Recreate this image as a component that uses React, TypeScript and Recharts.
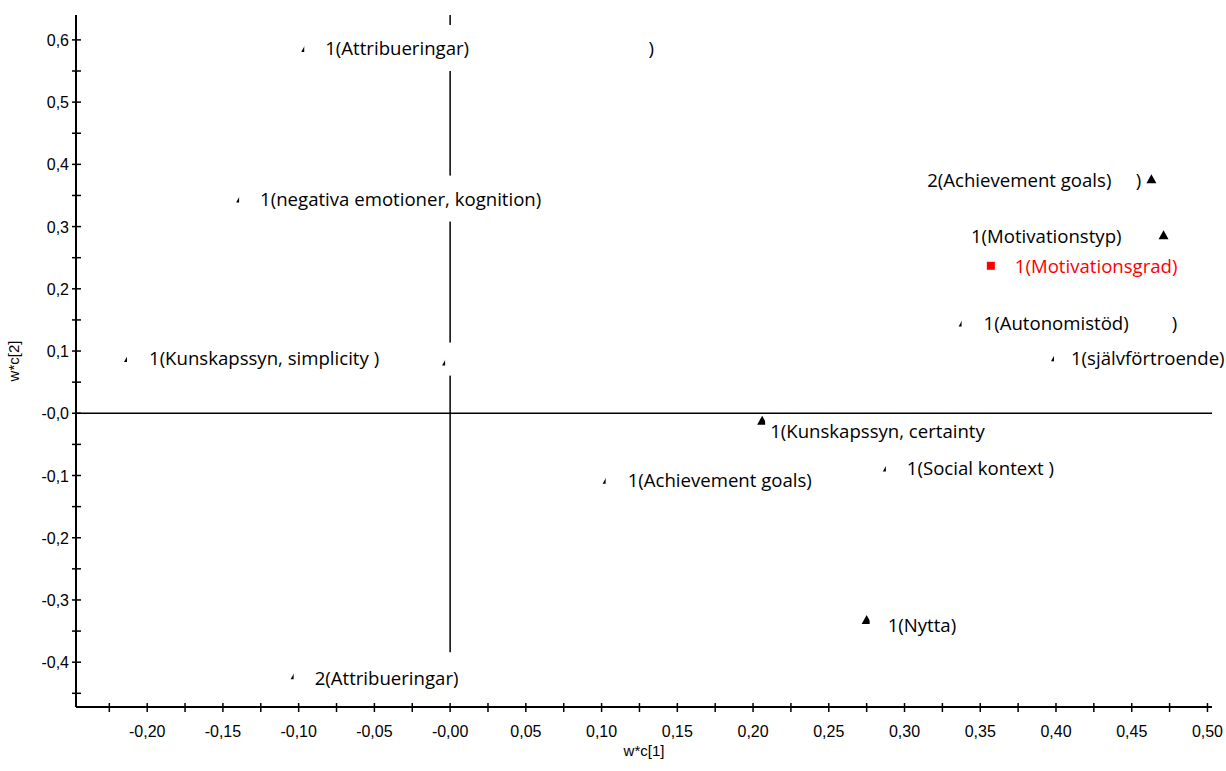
import {
  ScatterChart,
  Scatter,
  XAxis,
  YAxis,
  ReferenceLine,
  Label,
} from "recharts";

// loadings w*c[1] / w*c[2]
const names = [
  "1(Attribueringar)",
  "1(negativa emotioner, kognition)",
  "1(Kunskapssyn, simplicity )",
  "",
  "1(Kunskapssyn, certainty",
  "1(Social kontext )",
  "1(Achievement goals)",
  "1(Nytta)",
  "2(Attribueringar)",
  "2(Achievement goals)",
  "1(Motivationstyp)",
  "1(Autonomistöd)",
  "1(självförtroende)",
];
const wc1 = [
  -0.095, -0.138, -0.212, -0.002, 0.206, 0.289, 0.104, 0.275, -0.102, 0.463,
  0.471, 0.339, 0.4,
];
const wc2 = [
  0.587, 0.345, 0.089, 0.083, -0.012, -0.087, -0.107, -0.332, -0.421, 0.376,
  0.286, 0.146, 0.09,
];

// the response (y) variable, drawn in red
const respNames = ["1(Motivationsgrad)"];
const respWc1 = [0.357];
const respWc2 = [0.237];

const xTicks = [
  -0.225, -0.2, -0.175, -0.15, -0.125, -0.1, -0.075, -0.05, -0.025, 0, 0.025,
  0.05, 0.075, 0.1, 0.125, 0.15, 0.175, 0.2, 0.225, 0.25, 0.275, 0.3, 0.325,
  0.35, 0.375, 0.4, 0.425, 0.45, 0.475, 0.5,
];
const xTickLabels = [
  "", "-0,20", "", "-0,15", "", "-0,10", "", "-0,05", "", "-0,00", "", "0,05",
  "", "0,10", "", "0,15", "", "0,20", "", "0,25", "", "0,30", "", "0,35", "",
  "0,40", "", "0,45", "", "0,50",
];
const yTicks = [
  -0.45, -0.4, -0.35, -0.3, -0.25, -0.2, -0.15, -0.1, -0.05, 0, 0.05, 0.1,
  0.15, 0.2, 0.25, 0.3, 0.35, 0.4, 0.45, 0.5, 0.55, 0.6,
];
const yTickLabels = [
  "", "-0,4", "", "-0,3", "", "-0,2", "", "-0,1", "", "-0,0", "", "0,1", "",
  "0,2", "", "0,3", "", "0,4", "", "0,5", "", "0,6",
];

const points = names.map((name, i) => ({ name, x: wc1[i], y: wc2[i] }));
const respPoints = respNames.map((name, i) => ({
  name,
  x: respWc1[i],
  y: respWc2[i],
  resp: true,
}));
const allPoints = [...points, ...respPoints];

// label placement around each marker (px, relative to marker centre)
type Placement = {
  dx: number;
  dy?: number;
  anchor?: "start" | "end";
  boxL: number;
  boxR: number;
  boxT?: number;
  boxB?: number;
  tail?: number;
};
const placement: Record<string, Placement> = {
  "1(Attribueringar)": { dx: 19, boxL: -2, boxR: 342, tail: 345 },
  "1(negativa emotioner, kognition)": { dx: 19, boxL: -2, boxR: 314 },
  "1(Kunskapssyn, simplicity )": { dx: 20, boxL: -2, boxR: 256 },
  "": { dx: 0, boxL: -2, boxR: 40, boxT: -19, boxB: 14 },
  "1(Kunskapssyn, certainty": { dx: 8, dy: 10, boxL: 3, boxR: 200, boxT: -4, boxB: 32 },
  "1(Social kontext )": { dx: 19, boxL: -2, boxR: 180 },
  "1(Achievement goals)": { dx: 20, boxL: -2, boxR: 210 },
  "1(Nytta)": { dx: 21, dy: 5, boxL: 3, boxR: 100, boxT: -3, boxB: 28 },
  "2(Attribueringar)": { dx: 19, dy: 2, boxL: -2, boxR: 170 },
  "2(Achievement goals)": { dx: -40, anchor: "end", boxL: -235, boxR: -7, tail: -13 },
  "1(Motivationstyp)": { dx: -42, anchor: "end", boxL: -200, boxR: -8, boxT: -14, boxB: 14 },
  "1(Motivationsgrad)": { dx: 24, boxL: 6, boxR: 200, boxT: -14, boxB: 16 },
  "1(Autonomistöd)": { dx: 20, boxL: -2, boxR: 206, tail: 211, boxT: -16, boxB: 12 },
  "1(självförtroende)": { dx: 15, boxL: -2, boxR: 175 },
};

const AXIS_FONT = "'Liberation Sans', Arial, sans-serif";
const LABEL_FONT = "'Open Sans', sans-serif";
const LABEL_SIZE = 18.6;

const Triangle = ({ cx, cy }: any) => (
  <path
    d={`M${cx},${cy - 5} L${cx + 5},${cy + 4} L${cx - 5},${cy + 4} Z`}
    fill="#000"
  />
);

const Square = ({ cx, cy }: any) => (
  <rect x={cx - 4} y={cy - 4} width={8} height={8} fill="#ff0000" />
);

const PointLabel = ({ cx, cy, payload }: any) => {
  const p = placement[payload.name];
  if (!p) return null;
  const ty = cy + (p.dy ?? 0);
  const top = cy + (p.boxT ?? (p.dy ?? 0) - 23);
  const bottom = cy + (p.boxB ?? (p.dy ?? 0) + 23);
  const color = payload.resp ? "#ff0000" : "#000";
  return (
    <g>
      <rect
        x={cx + p.boxL}
        y={top}
        width={p.boxR - p.boxL}
        height={bottom - top}
        fill="#fff"
      />
      {payload.name && (
        <text
          x={cx + p.dx}
          y={ty}
          dominantBaseline="central"
          textAnchor={p.anchor ?? "start"}
          fontFamily={LABEL_FONT}
          fontSize={LABEL_SIZE}
          fill={color}
        >
          {payload.name}
        </text>
      )}
      {p.tail !== undefined && (
        <text
          x={cx + p.tail}
          y={ty}
          dominantBaseline="central"
          textAnchor="middle"
          fontFamily={LABEL_FONT}
          fontSize={LABEL_SIZE}
          fill="#000"
        >
          )
        </text>
      )}
    </g>
  );
};

const XTick = ({ x, y, payload }: any) => {
  const label = xTickLabels[xTicks.indexOf(payload.value)] ?? "";
  return (
    <g>
      <line x1={x} x2={x} y1={y - 4} y2={y + 5} stroke="#000" strokeWidth={1.5} />
      {label && (
        <text x={x} y={y + 30} textAnchor="middle" fontFamily={AXIS_FONT} fontSize={16} fill="#000">
          {label}
        </text>
      )}
    </g>
  );
};

const YTick = ({ x, y, payload }: any) => {
  const label = yTickLabels[yTicks.indexOf(payload.value)] ?? "";
  return (
    <g>
      <line x1={x - 4} x2={x + 5} y1={y} y2={y} stroke="#000" strokeWidth={1.5} />
      {label && (
        <text x={x - 7} y={y + 6} textAnchor="end" fontFamily={AXIS_FONT} fontSize={16} fill="#000">
          {label}
        </text>
      )}
    </g>
  );
};

export default function App() {
  return (
    <div style={{ position: "absolute", left: 0, top: 0 }}>
      <ScatterChart
        width={1226}
        height={771}
        margin={{ top: 15, right: 14, bottom: 0, left: 0 }}
      >
        <XAxis
          type="number"
          dataKey="x"
          domain={[-0.247, 0.503]}
          ticks={xTicks}
          tick={<XTick />}
          tickLine={false}
          tickSize={0}
          tickMargin={0}
          height={64}
          interval={0}
          axisLine={{ stroke: "#000", strokeWidth: 2 }}
        >
          <Label
            value="w*c[1]"
            position="insideBottom"
            offset={15}
            style={{ fontFamily: AXIS_FONT, fontSize: 15, fill: "#000" }}
          />
        </XAxis>
        <YAxis
          type="number"
          dataKey="y"
          domain={[-0.472, 0.64]}
          ticks={yTicks}
          tick={<YTick />}
          tickLine={false}
          tickSize={0}
          tickMargin={0}
          width={76}
          interval={0}
          axisLine={{ stroke: "#000", strokeWidth: 2 }}
        >
          <Label
            value="w*c[2]"
            angle={-90}
            position="insideLeft"
            offset={14}
            style={{ fontFamily: AXIS_FONT, fontSize: 15, fill: "#000", textAnchor: "middle" }}
          />
        </YAxis>
        <XAxis
          xAxisId="top"
          orientation="top"
          type="number"
          domain={[0, 1]}
          height={0}
          tick={false}
          tickLine={false}
          axisLine={{ stroke: "#000", strokeWidth: 2 }}
        />
        <YAxis
          yAxisId="right"
          orientation="right"
          type="number"
          domain={[0, 1]}
          width={0}
          tick={false}
          tickLine={false}
          axisLine={{ stroke: "#000", strokeWidth: 2 }}
        />
        <ReferenceLine y={0} stroke="#000" strokeWidth={1.5} />
        <ReferenceLine
          segment={[
            { x: 0, y: 0.64 },
            { x: 0, y: -0.384 },
          ]}
          stroke="#000"
          strokeWidth={1.5}
        />
        <Scatter data={points} shape={<Triangle />} isAnimationActive={false} />
        <Scatter data={respPoints} shape={<Square />} isAnimationActive={false} />
        <Scatter data={allPoints} shape={<PointLabel />} isAnimationActive={false} />
      </ScatterChart>
    </div>
  );
}
